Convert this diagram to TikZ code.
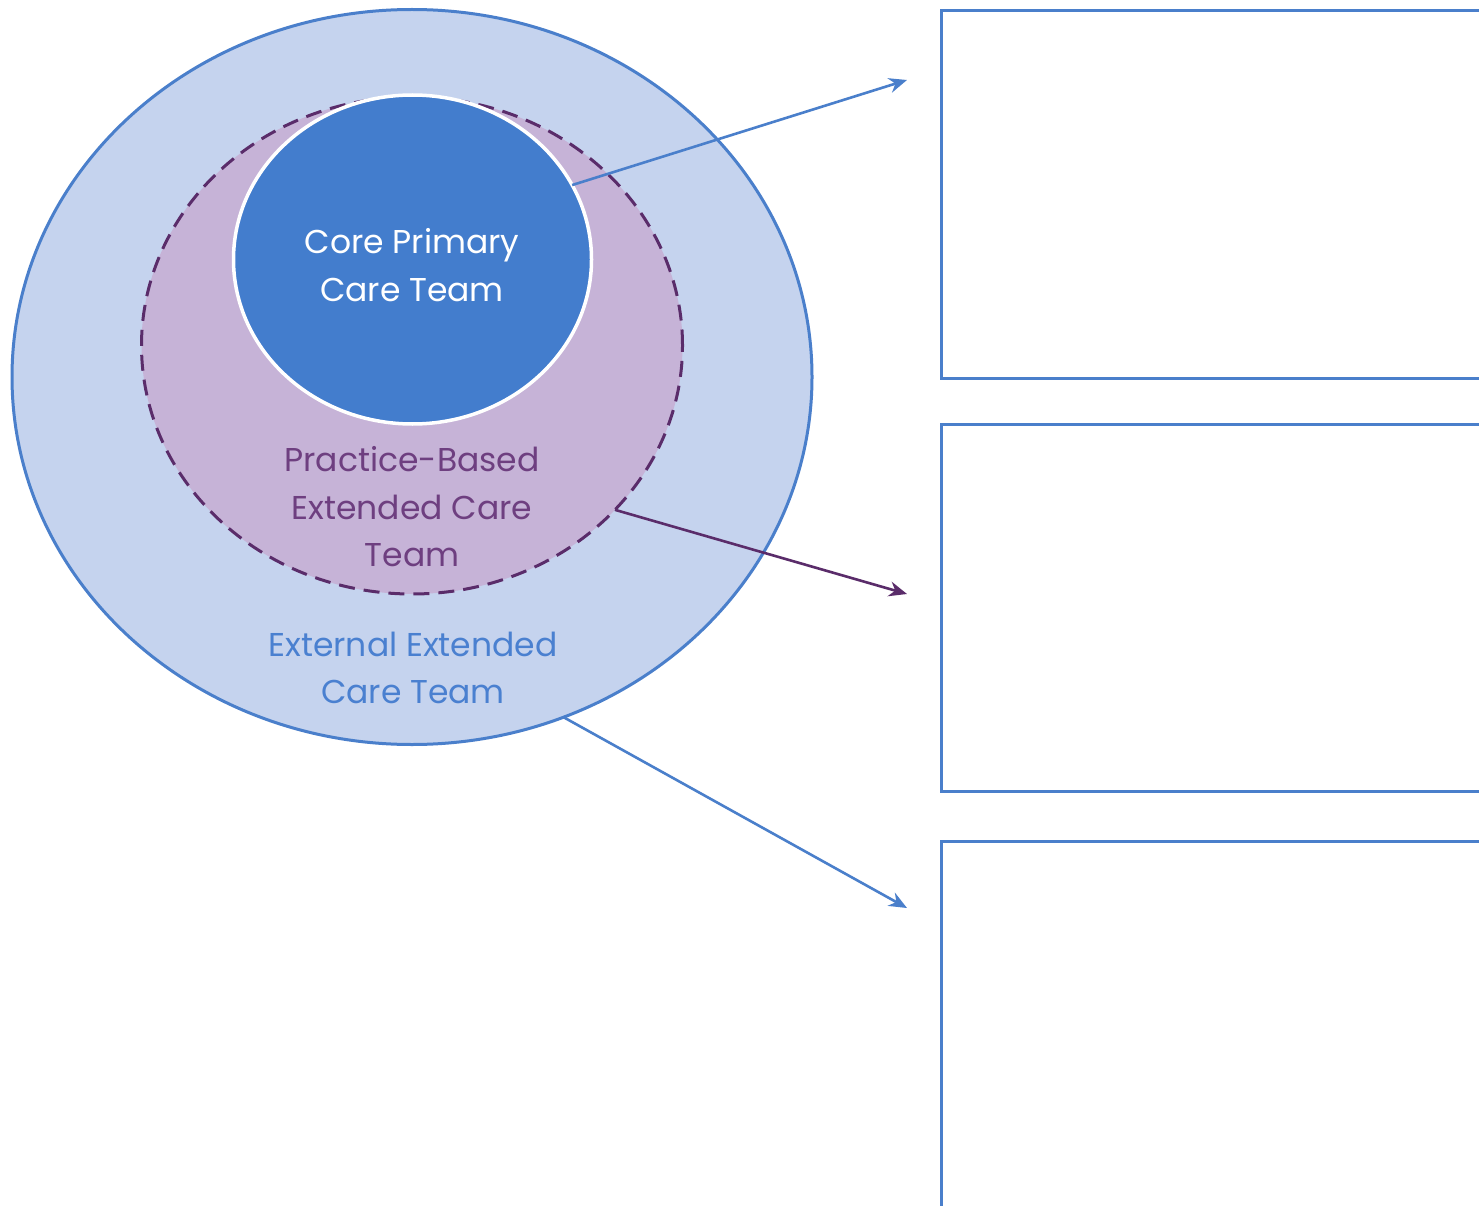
\documentclass[tikz,border=0pt]{standalone}
\usepackage{fontspec}
\setmainfont{Poppins}
\usetikzlibrary{shapes.geometric,arrows.meta}
\definecolor{outerfill}{HTML}{C5D3EE}
\definecolor{blueline}{HTML}{4A7FCB}
\definecolor{midfill}{HTML}{C6B3D7}
\definecolor{purpleline}{HTML}{5A2C6A}
\definecolor{corefill}{HTML}{437DCD}
\definecolor{purpletext}{HTML}{6E3F80}
\definecolor{bluetext}{HTML}{4A80D0}
\tikzset{
  ring/.style={ellipse, inner sep=0pt, outer sep=0pt},
  lbl/.style={align=center, font=\fontsize{33}{47.5}\selectfont, inner sep=0pt},
  callout/.style={line width=2.6pt, -{Stealth[length=18pt,width=15pt]}},
  panel/.style={draw=blueline, line width=3pt, fill=white}
}
\begin{document}
\begin{tikzpicture}[x=1pt,y=-1pt]
\useasboundingbox (0,0) rectangle (1479,1206);
\clip (0,0) rectangle (1479,1206);
\fill[white] (0,0) rectangle (1479,1206);
% rings
\node[ring, draw=blueline, line width=3pt, fill=outerfill, minimum width=800pt, minimum height=735pt] (outer) at (412,377) {};
\node[ring, draw=purpleline, line width=3pt, dash pattern=on 16pt off 9pt, fill=midfill, minimum width=541pt, minimum height=497pt] (mid) at (412,345.5) {};
\node[ring, draw=white, line width=3.5pt, fill=corefill, minimum width=358pt, minimum height=329pt] (core) at (412.5,259.5) {};
% labels
\node[lbl, text=white] (coretxt) at (412,265) {Core Primary\\Care Team};
\node[lbl, text=purpletext] (midtxt) at (412,507) {Practice-Based\\Extended Care\\Team};
\node[lbl, text=bluetext] (outtxt) at (413,668) {External Extended\\Care Team};
% panels
\node[panel, anchor=north west, minimum width=600pt, minimum height=368pt, inner sep=0pt] (p1) at (940,9) {};
\node[panel, anchor=north west, minimum width=600pt, minimum height=367pt, inner sep=0pt] (p2) at (940,423) {};
\node[panel, anchor=north west, minimum width=600pt, minimum height=420pt, inner sep=0pt] (p3) at (940,840) {};
% arrow ends
\coordinate (e1) at (907,80);
\coordinate (e2) at (907,594);
\coordinate (e3) at (907,908);
\draw[callout, blueline] (core.25) -- (e1);
\draw[callout, purpleline] (mid.-39) -- (e2);
\draw[callout, blueline] (outer.-66) -- (e3);
\end{tikzpicture}
\end{document}
